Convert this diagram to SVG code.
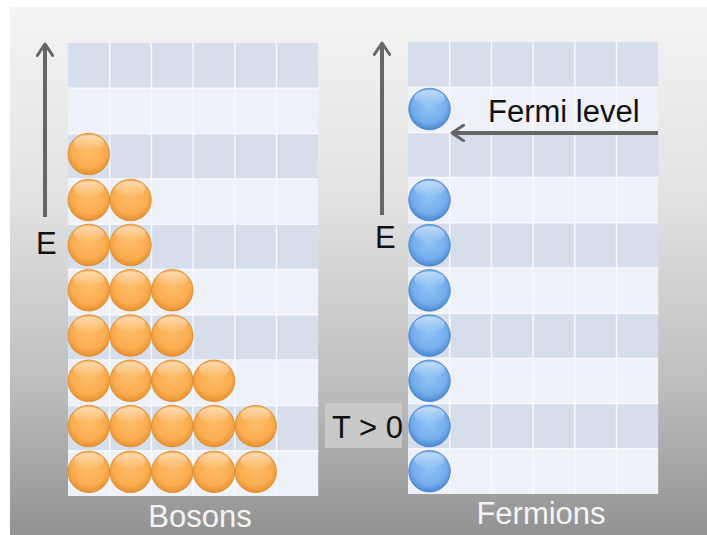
<svg xmlns="http://www.w3.org/2000/svg" width="707" height="535" viewBox="0 0 707 535">
<defs>
<linearGradient id="bg" x1="0" y1="0" x2="0" y2="1">
<stop offset="0" stop-color="#f4f4f4"/>
<stop offset="0.35" stop-color="#e3e3e3"/>
<stop offset="0.7" stop-color="#c0c0c0"/>
<stop offset="1" stop-color="#929292"/>
</linearGradient>
<radialGradient id="og" cx="0.5" cy="0.42" r="0.58">
<stop offset="0" stop-color="#fdbd6a"/>
<stop offset="0.7" stop-color="#fbad50"/>
<stop offset="1" stop-color="#e5902f"/>
</radialGradient>
<radialGradient id="bgc" cx="0.5" cy="0.42" r="0.58">
<stop offset="0" stop-color="#90c5f6"/>
<stop offset="0.7" stop-color="#75aeed"/>
<stop offset="1" stop-color="#4b88d2"/>
</radialGradient>
<linearGradient id="gloss" x1="0" y1="0" x2="0" y2="1">
<stop offset="0" stop-color="#ffffff" stop-opacity="0.55"/>
<stop offset="1" stop-color="#ffffff" stop-opacity="0"/>
</linearGradient>
<symbol id="boson" overflow="visible">
<circle cx="0" cy="0" r="20.8" fill="url(#og)" stroke="#d98a30" stroke-width="0.8"/>
<ellipse cx="0" cy="-11" rx="15" ry="8" fill="url(#gloss)"/>
</symbol>
<symbol id="fermion" overflow="visible">
<circle cx="0" cy="0" r="20.8" fill="url(#bgc)" stroke="#4580c8" stroke-width="0.8"/>
<ellipse cx="0" cy="-11" rx="15" ry="8" fill="url(#gloss)"/>
</symbol>
<marker id="chev" viewBox="0 0 12 12" refX="10" refY="6" markerWidth="4.6" markerHeight="4.6" orient="auto" markerUnits="strokeWidth">
<path d="M2.5,1 L10,6 L2.5,11" fill="none" stroke="#666" stroke-width="2" stroke-linecap="round" stroke-linejoin="round"/>
</marker>
</defs>
<style>
.dk{fill:#d7deeb}
.lt{fill:#eef1f7}
.gl{stroke:#f8f9fc;stroke-width:1.5;fill:none}
.lbl{font-family:"Liberation Sans",Arial,sans-serif;font-size:31px;fill:#111}
.cap{font-family:"Liberation Sans",Arial,sans-serif;font-size:31px;fill:#f4f4f4}
.ax{stroke:#666;stroke-width:4;fill:none;marker-end:url(#chev)}
</style>
<rect x="10" y="7" width="697" height="528" fill="url(#bg)"/>

<g id="bosons-grid">
<rect class="dk" x="68" y="43" width="250.2" height="45.3"/>
<rect class="lt" x="68" y="88.3" width="250.2" height="45.3"/>
<rect class="dk" x="68" y="133.6" width="250.2" height="45.3"/>
<rect class="lt" x="68" y="178.9" width="250.2" height="45.3"/>
<rect class="dk" x="68" y="224.2" width="250.2" height="45.3"/>
<rect class="lt" x="68" y="269.5" width="250.2" height="45.3"/>
<rect class="dk" x="68" y="314.8" width="250.2" height="45.3"/>
<rect class="lt" x="68" y="360.1" width="250.2" height="45.3"/>
<rect class="dk" x="68" y="405.4" width="250.2" height="45.3"/>
<rect class="lt" x="68" y="450.7" width="250.2" height="45.3"/>
<path class="gl" d="M109.7,43V496M151.4,43V496M193.1,43V496M234.8,43V496M276.5,43V496M68,88.3H318.2M68,133.6H318.2M68,178.9H318.2M68,224.2H318.2M68,269.5H318.2M68,314.8H318.2M68,360.1H318.2M68,405.4H318.2M68,450.7H318.2"/>
</g>

<g id="fermions-grid">
<rect class="dk" x="408" y="42" width="250.2" height="45.2"/>
<rect class="lt" x="408" y="87.2" width="250.2" height="45.2"/>
<rect class="dk" x="408" y="132.4" width="250.2" height="45.2"/>
<rect class="lt" x="408" y="177.6" width="250.2" height="45.2"/>
<rect class="dk" x="408" y="222.8" width="250.2" height="45.2"/>
<rect class="lt" x="408" y="268" width="250.2" height="45.2"/>
<rect class="dk" x="408" y="313.2" width="250.2" height="45.2"/>
<rect class="lt" x="408" y="358.4" width="250.2" height="45.2"/>
<rect class="dk" x="408" y="403.6" width="250.2" height="45.2"/>
<rect class="lt" x="408" y="448.8" width="250.2" height="45.2"/>
<path class="gl" d="M449.7,42V494M491.4,42V494M533.1,42V494M574.8,42V494M616.5,42V494M408,87.2H658.2M408,132.4H658.2M408,177.6H658.2M408,222.8H658.2M408,268H658.2M408,313.2H658.2M408,358.4H658.2M408,403.6H658.2M408,448.8H658.2"/>
</g>

<g id="bosons">
<use href="#boson" x="88.8" y="154"/>
<use href="#boson" x="88.8" y="200"/>
<use href="#boson" x="130.5" y="200"/>
<use href="#boson" x="88.8" y="245"/>
<use href="#boson" x="130.5" y="245"/>
<use href="#boson" x="88.8" y="290.2"/>
<use href="#boson" x="130.5" y="290.2"/>
<use href="#boson" x="172.3" y="290.2"/>
<use href="#boson" x="88.8" y="335.5"/>
<use href="#boson" x="130.5" y="335.5"/>
<use href="#boson" x="172.3" y="335.5"/>
<use href="#boson" x="88.8" y="380.8"/>
<use href="#boson" x="130.5" y="380.8"/>
<use href="#boson" x="172.3" y="380.8"/>
<use href="#boson" x="214" y="380.8"/>
<use href="#boson" x="88.8" y="426.1"/>
<use href="#boson" x="130.5" y="426.1"/>
<use href="#boson" x="172.3" y="426.1"/>
<use href="#boson" x="214" y="426.1"/>
<use href="#boson" x="255.7" y="426.1"/>
<use href="#boson" x="88.8" y="471.8"/>
<use href="#boson" x="130.5" y="471.8"/>
<use href="#boson" x="172.3" y="471.8"/>
<use href="#boson" x="214" y="471.8"/>
<use href="#boson" x="255.7" y="471.8"/>
</g>

<g id="fermions">
<use href="#fermion" x="429.5" y="109"/>
<use href="#fermion" x="429.5" y="200"/>
<use href="#fermion" x="429.5" y="245.2"/>
<use href="#fermion" x="429.5" y="290.4"/>
<use href="#fermion" x="429.5" y="335.6"/>
<use href="#fermion" x="429.5" y="380.8"/>
<use href="#fermion" x="429.5" y="426"/>
<use href="#fermion" x="429.5" y="471.2"/>
</g>

<g id="connectors">
<line class="ax" x1="45" y1="217" x2="45" y2="44"/>
<line class="ax" x1="382" y1="215" x2="382" y2="43"/>
<line class="ax" x1="658" y1="133" x2="452" y2="133"/>
</g>

<g id="labels">
<text class="lbl" x="36" y="254">E</text>
<text class="lbl" x="375" y="248">E</text>
<text class="lbl" x="488" y="122">Fermi level</text>
<g id="t-box">
<rect x="325" y="403" width="77" height="45" fill="#c9c9c9"/>
<text class="lbl" x="332" y="438">T &gt; 0</text>
</g>
<text class="cap" x="200" y="527" text-anchor="middle">Bosons</text>
<text class="cap" x="541" y="524" text-anchor="middle">Fermions</text>
</g>
</svg>
